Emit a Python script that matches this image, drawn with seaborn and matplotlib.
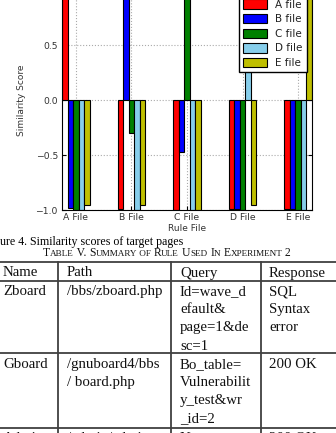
import matplotlib
matplotlib.use("Agg")
import matplotlib.pyplot as plt
from matplotlib.lines import Line2D
import numpy as np
import pandas as pd
import seaborn as sns

# ---------------- data ----------------
rule_files = ["A File", "B File", "C File", "D File", "E File"]
target_files = ["A file", "B file", "C file", "D file", "E file"]
a_file = [1.0, -0.99, -1.0, -0.99, -0.99]
b_file = [-0.98, 1.0, -0.47, -0.99, -0.99]
c_file = [-1.0, -0.30, 1.0, -1.0, -1.0]
d_file = [-1.0, -1.0, -1.0, 1.0, -1.0]
e_file = [-0.95, -0.95, -1.0, -0.95, 1.0]
bar_colors = ["#FF0000", "#0000FF", "#008000", "#87CEEB", "#BFBF00"]
y_ticks = [-1.0, -0.5, 0.0, 0.5, 1.0]
y_tick_labels = ["\u22121.0", "\u22120.5", "0.0", "0.5", ""]

caption_text = "ure 4. Similarity scores of target pages"
table_title = [("T", 1), ("ABLE", 0), (" V. ", 1), ("S", 1), ("UMMARY", 0), (" OF ", 0),
               ("R", 1), ("ULE", 0), (" ", 1), ("U", 1), ("SED", 0), (" ", 1), ("I", 1), ("N", 0),
               (" ", 1), ("E", 1), ("XPERIMENT", 0), (" 2", 1)]
table_header = ["Name", "Path", "Query", "Response"]
row1 = [["Zboard"], ["/bbs/zboard.php"], ["Id=wave_d", "efault&", "page=1&de", "sc=1"],
        ["SQL", "Syntax", "error"]]
row2 = [["Gboard"], ["/gnuboard4/bbs", "/ board.php"],
        ["Bo_table=", "Vulnerabilit", "y_test&wr", "_id=2"], ["200 OK"]]
row3 = [["Admin"], ["/admin/admin"], ["No"], ["200 OK"]]

# ---------------- figure ----------------
W, H = 336, 433
fig = plt.figure(figsize=(W / 100, H / 100), dpi=100)
fig.patch.set_facecolor("white")


def fx(x):
    return x / W


def fy(y):
    return 1 - y / H


ax = fig.add_axes([fx(62), fy(210), (312 - 62) / W, (220) / H])

df = pd.DataFrame({
    "rule": rule_files * 5,
    "target": sum([[t] * 5 for t in target_files], []),
    "score": a_file + b_file + c_file + d_file + e_file,
})

sns.barplot(data=df, x="rule", y="score", hue="target", order=rule_files,
            hue_order=target_files, palette=bar_colors, width=0.5,
            edgecolor="black", linewidth=0.8, saturation=1, errorbar=None, ax=ax)

ax.set_xlim(-0.25, 4.25)
ax.set_ylim(-1.0, 1.0)
ax.set_yticks(y_ticks)
ax.set_yticklabels(y_tick_labels)
ax.grid(True, linestyle=":", color="#aaaaaa", linewidth=0.8)
ax.set_axisbelow(True)
ax.tick_params(direction="in", top=True, right=True, labelsize=6.7,
               colors="black", labelcolor="#333333", length=3, pad=3)
ax.tick_params(axis="x", pad=2.5)
for s in ax.spines.values():
    s.set_color("black")
    s.set_linewidth(0.8)
ax.set_ylabel("Similarity Score", fontsize=6.5, color="#333333", labelpad=7)
ax.set_xlabel("Rule File", fontsize=6.5, color="#333333", labelpad=1)

handles, labels = ax.get_legend_handles_labels()
leg = ax.legend(handles, labels, loc="upper right", fontsize=7.5, handlelength=2.3,
                handleheight=1.0, labelspacing=0.42, fancybox=False, framealpha=1,
                edgecolor="black", borderaxespad=0.5)
for t in leg.get_texts():
    t.set_color("#222222")

# ---------------- caption & table ----------------
serif = ["Liberation Serif", "DejaVu Serif"]
fig.text(fx(0.5), fy(245), caption_text, ha="left", va="baseline",
         fontsize=8.6, family=serif)

renderer = fig.canvas.get_renderer()
pieces = []
for txt, big in table_title:
    t = fig.text(0, fy(256.5), txt, ha="left", va="baseline",
                 fontsize=8.4 if big else 6.6, family=serif, color="#111111")
    pieces.append(t)
widths = [p.get_window_extent(renderer).width for p in pieces]
x0 = 167 - sum(widths) / 2
for p, w in zip(pieces, widths):
    p.set_x(fx(x0))
    x0 += w

line_kw = dict(color="#404040", linewidth=1.3)
for yy in [262, 280.5, 353, 428]:
    fig.add_artist(Line2D([0, 1], [fy(yy), fy(yy)], transform=fig.transFigure, **line_kw))
for xx in [58.3, 171, 260.7]:
    fig.add_artist(Line2D([fx(xx), fx(xx)], [fy(262), fy(440)],
                          transform=fig.transFigure, **line_kw))

col_x = [3, 67, 180, 269]
tkw = dict(ha="left", va="baseline", fontsize=10.7, family=serif, color="#111111")
for cx, h in zip(col_x, table_header):
    fig.text(fx(cx), fy(276.5), h, **tkw)
for row, base in [(row1, 295), (row2, 368), (row3, 442)]:
    for cx, cell in zip(col_x, row):
        for i, line in enumerate(cell):
            fig.text(fx(cx), fy(base + i * 18.2), line, **tkw)

fig.savefig("out.png", dpi=100)
